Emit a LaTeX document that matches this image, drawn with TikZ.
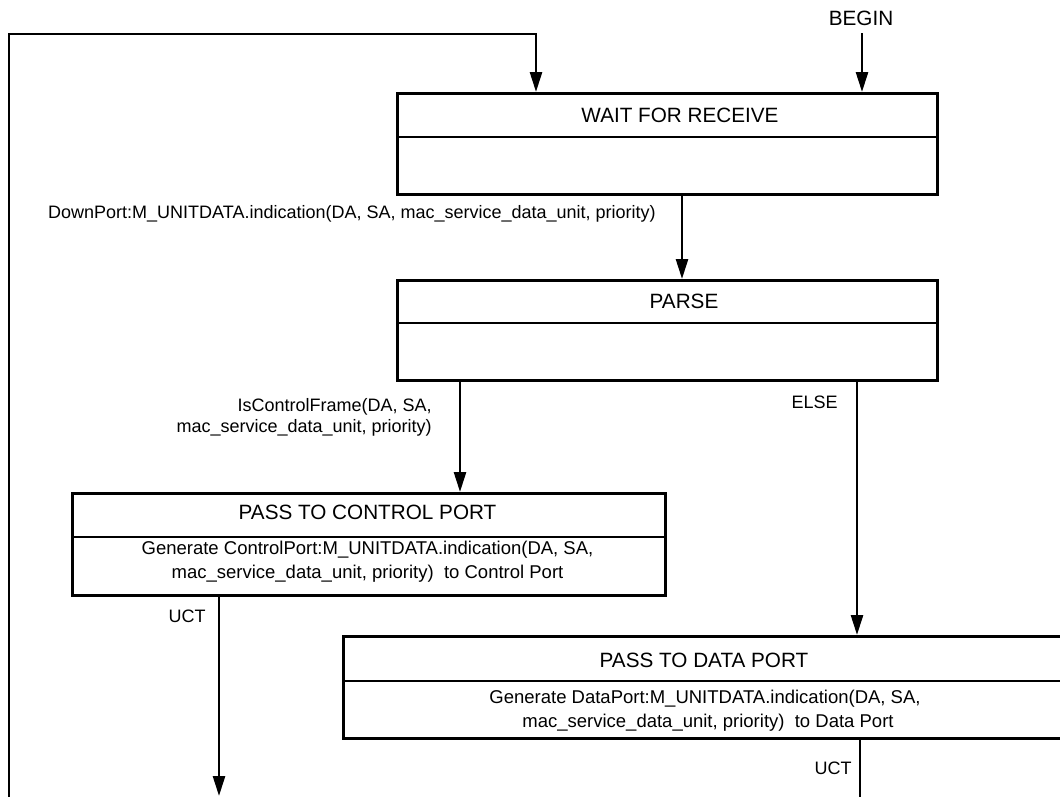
\documentclass[tikz,border=0pt]{standalone}
\usepackage{fontspec}
\setmainfont{Liberation Sans}
\usetikzlibrary{arrows.meta,calc}

\begin{document}
\begin{tikzpicture}[x=1pt,y=-1pt,
  line width=2.6pt,
  flow/.style={-{Triangle[length=20pt,width=12pt]}},
  statebox/.style={draw, rectangle, inner sep=0pt, anchor=north west},
  title/.style={font=\fontsize{20.7}{24}\selectfont, anchor=base, inner sep=0pt},
  lbl/.style={font=\fontsize{18}{21}\selectfont, inner sep=0pt},
  body/.style={font=\fontsize{18.5}{24}\selectfont, anchor=base, inner sep=0pt},
]
\useasboundingbox (0,0) rectangle (1060,796);
\clip (0,0) rectangle (1060,796);

% ---- state boxes (title area above the divider, action area below) ----
\node[statebox, minimum width=540pt, minimum height=101pt] (wait)  at (396,92)  {};
\node[statebox, minimum width=540pt, minimum height=100pt] (parse) at (396,279) {};
\node[statebox, minimum width=593pt, minimum height=102pt] (ctrl)  at (71,492)  {};
\node[statebox, minimum width=724pt, minimum height=102pt] (data)  at (342,635) {};

\draw ($(wait.north west)+(0,45)$)  -- ($(wait.north east)+(0,45)$);
\draw ($(parse.north west)+(0,44)$) -- ($(parse.north east)+(0,44)$);
\draw ($(ctrl.north west)+(0,45)$)  -- ($(ctrl.north east)+(0,45)$);
\draw ($(data.north west)+(0,46)$)  -- ($(data.north east)+(0,46)$);

% ---- titles ----
\node[title] (waitT)  at (680,122)   {WAIT FOR RECEIVE};
\node[title] (parseT) at (684,308)   {PARSE};
\node[title] (ctrlT)  at (367.5,519) {PASS TO CONTROL PORT};
\node[title] (dataT)  at (704,667)   {PASS TO DATA PORT};

% ---- actions ----
\node[body] (ctrlA1) at (367.5,554) {Generate ControlPort:M\_UNITDATA.indication(DA, SA,};
\node[body] (ctrlA2) at (367.5,578) {mac\_service\_data\_unit, priority)\ \ to Control Port};
\node[body] (dataA1) at (705,703)   {Generate DataPort:M\_UNITDATA.indication(DA, SA,};
\node[body] (dataA2) at (708,727)   {mac\_service\_data\_unit, priority)\ \ to Data Port};

% ---- entry ----
\node[title] (begin) at (861,25) {BEGIN};
\coordinate (beginS) at (862,33);
\draw[flow] (beginS) -- (beginS |- wait.north);

% ---- loop back into WAIT FOR RECEIVE ----
\coordinate (loopS)  at (9,800);
\coordinate (loopC1) at (9,34);
\coordinate (loopC2) at (536,34);
\draw[flow] (loopS) -- (loopC1) -- (loopC2) -- (loopC2 |- wait.north);

% ---- transitions ----
\draw[flow] ($(wait.south west)+(286,0)$) -- ($(parse.north west)+(286,0)$);
\node[lbl, anchor=base east] (lblRx) at (657,218)
  {DownPort:M\_UNITDATA.indication(DA, SA, mac\_service\_data\_unit, priority)};

\draw[flow] ($(parse.south west)+(64,0)$) -- ($(ctrl.north west)+(389,0)$);
\node[lbl, anchor=base east] (lblCf1) at (433,411) {IsControlFrame(DA, SA,};
\node[lbl, anchor=base east] (lblCf2) at (433,432) {mac\_service\_data\_unit, priority)};

\draw[flow] ($(parse.south west)+(461,0)$) -- ($(data.north west)+(515,0)$);
\node[lbl, anchor=base east] (lblElse) at (839,408) {ELSE};

\coordinate (ctrlEnd) at (219,796);
\draw[flow] (ctrl.south -| ctrlEnd) -- (ctrlEnd);
\node[lbl, anchor=base east] (lblUct1) at (207,622) {UCT};

\coordinate (dataEnd) at (860,800);
\draw (data.south -| dataEnd) -- (dataEnd);
\node[lbl, anchor=base east] (lblUct2) at (853,774) {UCT};
\end{tikzpicture}
\end{document}
